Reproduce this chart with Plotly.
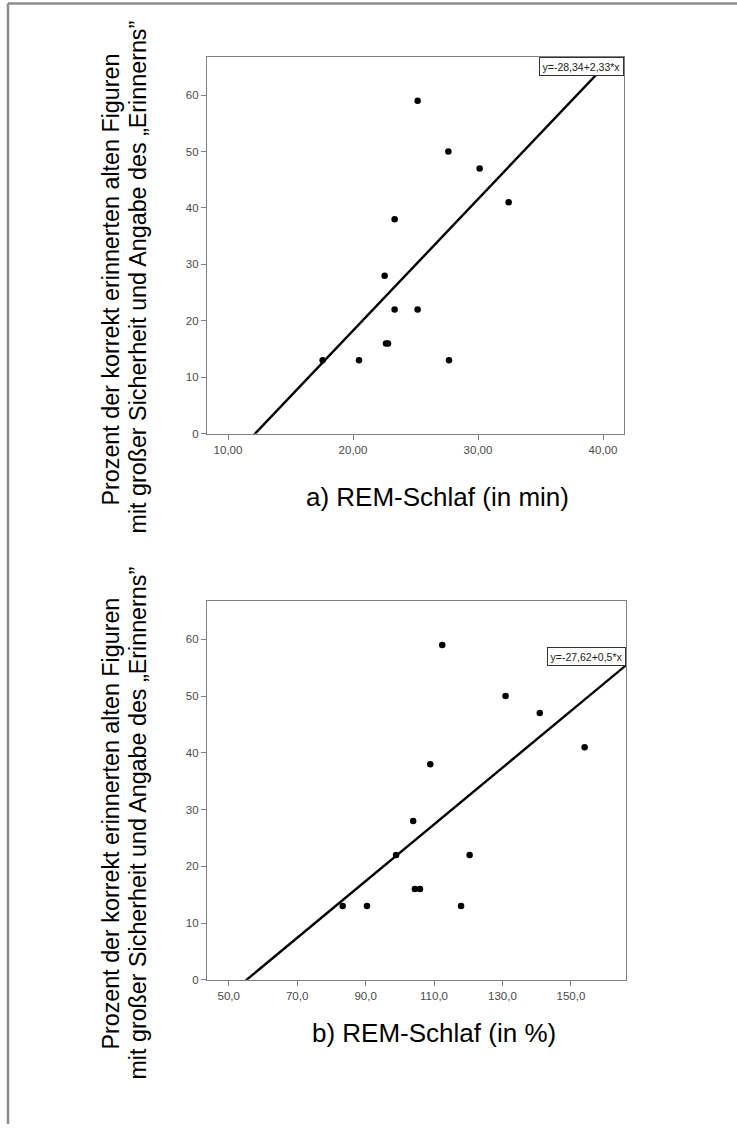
import plotly.graph_objects as go

W, H = 737, 1130

# ---- data ----
recall_pct = [59, 50, 47, 41, 38, 28, 22, 22, 16, 16, 13, 13, 13]
rem_min = [25.17, 27.63, 30.13, 32.45, 23.33, 22.53, 23.33, 25.17, 22.64, 22.80, 17.57, 20.48, 27.68]
rem_pct = [112.4, 130.9, 140.9, 154.0, 108.9, 103.9, 98.9, 120.4, 104.4, 105.9, 83.3, 90.4, 117.9]

fit_a = [-28.34, -27.62]   # intercepts
fit_b = [2.33, 0.5]        # slopes
fit_labels = ["y=-28,34+2,33*x", "y=-27,62+0,5*x"]

x1_ticks = [10, 20, 30, 40]
x1_ticktext = ["10,00", "20,00", "30,00", "40,00"]
x2_ticks = [50, 70, 90, 110, 130, 150]
x2_ticktext = ["50,0", "70,0", "90,0", "110,0", "130,0", "150,0"]
y_ticks = [0, 10, 20, 30, 40, 50, 60]

ytitle_1 = "Prozent der korrekt erinnerten alten Figuren"
ytitle_2 = "mit großer Sicherheit und Angabe des „Erinnerns”"
captions = ["a) REM-Schlaf (in min)", "b) REM-Schlaf (in %)"]

x1_range = [8.32, 41.68]
x2_range = [43.65, 166.1]
y_range = [0, 66.8]


def px(x):
    return x / W


def py(y):
    return 1 - y / H


fig = go.Figure()

# panel a
fig.add_trace(go.Scatter(x=rem_min, y=recall_pct, mode="markers",
                         marker=dict(color="black", size=6.5),
                         xaxis="x", yaxis="y", showlegend=False))
fig.add_trace(go.Scatter(x=x1_range, y=[fit_a[0] + fit_b[0] * v for v in x1_range],
                         mode="lines", line=dict(color="black", width=2.4),
                         xaxis="x", yaxis="y", showlegend=False))
# panel b
fig.add_trace(go.Scatter(x=rem_pct, y=recall_pct, mode="markers",
                         marker=dict(color="black", size=6.5),
                         xaxis="x2", yaxis="y2", showlegend=False))
fig.add_trace(go.Scatter(x=x2_range, y=[fit_a[1] + fit_b[1] * v for v in x2_range],
                         mode="lines", line=dict(color="black", width=2.4),
                         xaxis="x2", yaxis="y2", showlegend=False))

axis_common = dict(showgrid=False, zeroline=False, showline=True, mirror=True,
                   linecolor="#808080", linewidth=1.2, ticks="outside", ticklen=5,
                   tickcolor="#808080", tickwidth=1,
                   tickfont=dict(family="Liberation Sans", size=11.5, color="#4a4a4a"))

fig.update_layout(
    width=W, height=H, margin=dict(l=0, r=0, t=0, b=0),
    paper_bgcolor="white", plot_bgcolor="white",
    xaxis=dict(domain=[px(207), px(624)], range=x1_range, tickvals=x1_ticks,
               ticktext=x1_ticktext, anchor="y", **axis_common),
    yaxis=dict(domain=[py(436), py(57)], range=y_range, tickvals=y_ticks,
               anchor="x", **axis_common),
    xaxis2=dict(domain=[px(207), px(626)], range=x2_range, tickvals=x2_ticks,
                ticktext=x2_ticktext, anchor="y2", **axis_common),
    yaxis2=dict(domain=[py(985), py(604)], range=y_range, tickvals=y_ticks,
                anchor="x2", **axis_common),
)

anns = []
# equation boxes
anns.append(dict(text=fit_labels[0], xref="paper", yref="paper", x=px(624), y=py(57.5),
                 xanchor="right", yanchor="top", showarrow=False, bgcolor="white",
                 bordercolor="#333", borderwidth=1, borderpad=2.5,
                 font=dict(family="Liberation Sans", size=10.5, color="#222")))
anns.append(dict(text=fit_labels[1], xref="paper", yref="paper", x=px(625.5), y=py(650),
                 xanchor="right", yanchor="top", showarrow=False, bgcolor="white",
                 bordercolor="#333", borderwidth=1, borderpad=2.5,
                 font=dict(family="Liberation Sans", size=10.5, color="#222")))
# captions
anns.append(dict(text=captions[0], xref="paper", yref="paper", x=px(437), y=py(500),
                 xanchor="center", yanchor="middle", showarrow=False,
                 font=dict(family="Liberation Sans", size=26, color="black")))
anns.append(dict(text=captions[1], xref="paper", yref="paper", x=px(434), y=py(1039),
                 xanchor="center", yanchor="middle", showarrow=False,
                 font=dict(family="Liberation Sans", size=26, color="black")))
# rotated y titles
for (xc, yc, txt, fs) in [(111, 281, ytitle_1, 23.3), (138, 279, ytitle_2, 23.3),
                          (111, 828, ytitle_1, 23.3), (138, 828, ytitle_2, 23.3)]:
    anns.append(dict(text=txt, xref="paper", yref="paper", x=px(xc), y=py(yc),
                     xanchor="center", yanchor="middle", textangle=-90, showarrow=False,
                     font=dict(family="Liberation Sans", size=fs, color="black")))
fig.update_layout(annotations=anns)

# outer frame (top and left edges)
fig.update_layout(shapes=[
    dict(type="line", xref="paper", yref="paper", x0=px(8), x1=1, y0=py(3.5), y1=py(3.5),
         line=dict(color="#8c8c8c", width=2.5)),
    dict(type="line", xref="paper", yref="paper", x0=px(8), x1=px(8), y0=0, y1=py(3.5),
         line=dict(color="#8c8c8c", width=2.5)),
])

fig.write_html("out.html")
